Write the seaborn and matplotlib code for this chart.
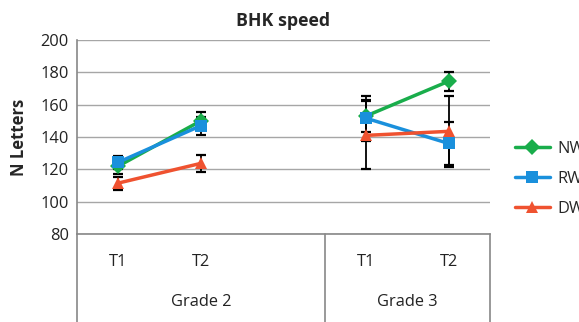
import matplotlib
matplotlib.use("Agg")
import matplotlib.pyplot as plt
from matplotlib.lines import Line2D
import seaborn as sns
import pandas as pd
import numpy as np

# values (slot 2 is the empty gap inside Grade 2)
series = ["NW", "RW", "DW"]
times = ["T1", "T2", "T1", "T2"]
grades = ["Grade 2", "Grade 2", "Grade 3", "Grade 3"]
positions = [0, 1, 3, 4]
nw_vals = [122, 150, 153, 174.5]
rw_vals = [124.4, 147, 151.6, 136]
dw_vals = [111.5, 123.7, 141, 143.5]
nw_err = [5, 5.3, 10, 5.8]
rw_err = [4, 5.5, 13.8, 13.5]
dw_err = [4, 5.1, 21, 22]

colors = {"NW": "#19AD4B", "RW": "#1A90DC", "DW": "#EF5230"}
markers = {"NW": "D", "RW": "s", "DW": "^"}

rows = []
for name, vals, errs in [("NW", nw_vals, nw_err), ("RW", rw_vals, rw_err), ("DW", dw_vals, dw_err)]:
    for p, t, g, v, e in zip(positions, times, grades, vals, errs):
        rows.append({"series": name, "pos": p, "time": t, "grade": g, "value": v, "err": e})
df = pd.DataFrame(rows)

sns.set_style("white")
plt.rcParams["font.family"] = ["Open Sans", "DejaVu Sans"]
fs = 11.8

fig = plt.figure(figsize=(5.79, 3.22), dpi=100)
ax = fig.add_axes([77 / 579, 88 / 322, 413 / 579, 194 / 322])

# error bars behind the lines
for name in series:
    sub = df[df["series"] == name]
    ax.errorbar(sub["pos"], sub["value"], yerr=sub["err"], fmt="none",
                ecolor="black", elinewidth=1.3, capsize=3.5, capthick=1.6, zorder=1.5)

sns.lineplot(data=df, x="pos", y="value", hue="series", style="series",
             units="grade", estimator=None, palette=colors, markers=markers,
             dashes=False, hue_order=series, style_order=series,
             linewidth=2.5, markersize=8.5, markeredgewidth=0, ax=ax, zorder=3)

ax.set_xlim(-0.5, 4.5)
ax.set_ylim(80, 200)
ax.set_yticks(np.arange(80, 201, 20))
ax.yaxis.grid(True, color="#A6A6A6", linewidth=1)
ax.set_xticks([])
ax.set_xlabel("")
ax.set_ylabel("N Letters", fontsize=12, fontweight="bold", labelpad=9)
ax.tick_params(axis="y", length=0, pad=6, labelsize=fs, colors="#222222")
ax.set_title("BHK speed", fontsize=12.8, fontweight="bold", pad=10)

for side in ["top", "right"]:
    ax.spines[side].set_visible(False)
ax.spines["left"].set_color("#888888")
ax.spines["bottom"].set_color("#888888")
ax.spines["left"].set_linewidth(1.2)
ax.spines["bottom"].set_linewidth(1.2)

# category axis below the plot
trans = ax.get_xaxis_transform()
below = -88 / 194
for x in [-0.5, 2.5, 4.5]:
    ax.add_line(Line2D([x, x], [0, below], transform=trans, color="#888888",
                       linewidth=1.2, clip_on=False))
for p, t in zip(positions, times):
    ax.text(p, -0.145, t, transform=trans, ha="center", va="center", fontsize=fs, color="#222222")
ax.text(1.0, -0.35, "Grade 2", transform=trans, ha="center", va="center", fontsize=fs, color="#222222")
ax.text(3.5, -0.35, "Grade 3", transform=trans, ha="center", va="center", fontsize=fs, color="#222222")

sns.move_legend(ax, "center left", bbox_to_anchor=(1.06, 0.284), title=None,
                frameon=False, borderaxespad=0, borderpad=0, handlelength=2.15,
                handletextpad=0.45, labelspacing=0.85, fontsize=fs)

fig.savefig("out.png", dpi=100)
